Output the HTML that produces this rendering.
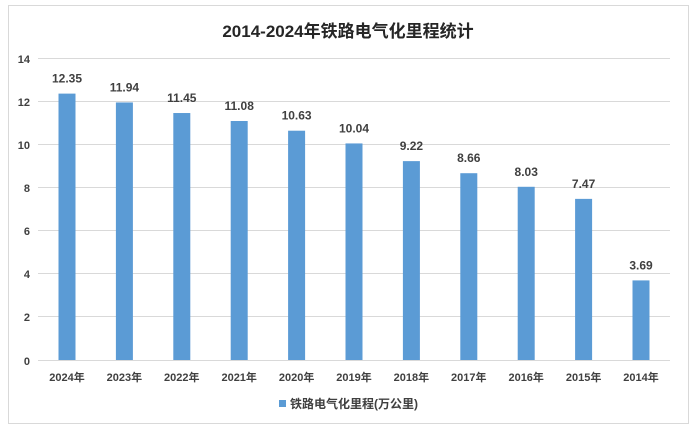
<!DOCTYPE html>
<html><head><meta charset="utf-8"><style>
body{margin:0;background:#fff;}
svg text{font-family:"Liberation Sans","Noto Sans CJK SC",sans-serif;font-weight:bold;fill:#404040;}
</style></head><body>
<svg width="697" height="430" xmlns="http://www.w3.org/2000/svg">
<rect x="8.5" y="5.5" width="680" height="418" fill="#fff" stroke="#d9d9d9"/>
<text x="348" y="37" font-size="17" text-anchor="middle" style="fill:#262626">2014-2024年铁路电气化里程统计</text>
<g stroke="#d9d9d9" stroke-width="1">
<line x1="38" x2="670" y1="58.5" y2="58.5"/>
<line x1="38" x2="670" y1="101.5" y2="101.5"/>
<line x1="38" x2="670" y1="144.5" y2="144.5"/>
<line x1="38" x2="670" y1="187.5" y2="187.5"/>
<line x1="38" x2="670" y1="230.5" y2="230.5"/>
<line x1="38" x2="670" y1="273.5" y2="273.5"/>
<line x1="38" x2="670" y1="316.5" y2="316.5"/>
<line x1="38" x2="670" y1="360.5" y2="360.5"/>
</g>
<g font-size="11" text-anchor="end">
<text x="30" y="63">14</text><text x="30" y="106">12</text><text x="30" y="149">10</text>
<text x="30" y="192">8</text><text x="30" y="235">6</text><text x="30" y="278">4</text>
<text x="30" y="321">2</text><text x="30" y="365">0</text>
</g>
<g fill="#5b9bd5" id="bars"></g>
<g id="labels" font-size="12" text-anchor="middle"></g>
<g id="xl" font-size="11" text-anchor="middle"></g>
<rect x="279" y="400" width="7" height="7" fill="#5b9bd5"/>
<text x="290" y="408" font-size="12">铁路电气化里程(万公里)</text>
<script>
var v=[12.35,11.94,11.45,11.08,10.63,10.04,9.22,8.66,8.03,7.47,3.69];
var b=document.getElementById('bars'),l=document.getElementById('labels'),xl=document.getElementById('xl');
var ns='http://www.w3.org/2000/svg';
for(var i=0;i<11;i++){
 var cx=67+i*57.4, h=v[i]*21.57, y=360-h;
 var r=document.createElementNS(ns,'rect');
 r.setAttribute('x',cx-8.5);r.setAttribute('y',y);r.setAttribute('width',17);r.setAttribute('height',h);
 b.appendChild(r);
 var t=document.createElementNS(ns,'text');
 t.setAttribute('x',cx);t.setAttribute('y',y-11);t.textContent=v[i].toFixed(2);l.appendChild(t);
 var t2=document.createElementNS(ns,'text');
 t2.setAttribute('x',cx);t2.setAttribute('y',381);t2.textContent=(2024-i)+'年';xl.appendChild(t2);
}
</script>
</svg>
</body></html>
